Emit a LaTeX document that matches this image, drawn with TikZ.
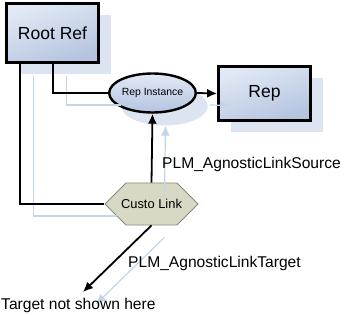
\documentclass[tikz,border=0pt]{standalone}
\usepackage{fontspec}
\setmainfont{Liberation Sans}
\usetikzlibrary{shapes.geometric,shapes.symbols,shadows,arrows.meta}

\definecolor{boxtop}{HTML}{E2E9F5}
\definecolor{boxbot}{HTML}{B4C4DF}
\definecolor{boxshadow}{HTML}{DCE4F2}
\definecolor{wireshadow}{HTML}{C6D4EA}
\definecolor{linkfill}{HTML}{D7D9C5}
\definecolor{linkdraw}{HTML}{8A8A7A}

\begin{document}
\begin{tikzpicture}[x=1pt, y=-1pt,
  >={Latex[length=10pt,width=9pt]},
  objbox/.style={draw, line width=2.8pt, top color=boxtop, bottom color=boxbot,
    shading angle=20, minimum width=92pt,
    drop shadow={shadow xshift=12pt, shadow yshift=-12pt, fill=boxshadow, opacity=1}},
  bigtext/.style={font=\fontsize{17.5}{20}\selectfont},
  wire/.style={line width=1.8pt},
  wireshade/.style={line width=1.2pt, wireshadow, transform canvas={xshift=13pt, yshift=-12pt}},
  lbl/.style={anchor=west, inner sep=0pt, font=\fontsize{15.6}{18}\selectfont}]

\useasboundingbox (0,0) rectangle (345,315);

\node[objbox, bigtext, minimum height=59pt] (root) at (52.5,33) {Root Ref};
\node[objbox, bigtext, minimum height=54pt] (rep) at (264.5,93.5) {Rep};
\node[ellipse, draw, line width=2.4pt, top color=boxtop, bottom color=boxbot,
  minimum width=77pt, minimum height=39pt, inner sep=0pt,
  drop shadow={shadow xshift=12pt, shadow yshift=-13pt, fill=boxshadow, opacity=1},
  font=\fontsize{10.4}{12}\selectfont] (inst) at (152.5,93) {Rep Instance};
\node[signal, signal to=east and west, signal pointer angle=90, draw=linkdraw,
  fill=linkfill, line width=0.8pt, minimum height=42pt,
  inner xsep=-5pt, inner ysep=0pt, font=\fontsize{12.9}{15}\selectfont] (custo) at (151.5,204) {Custo Link};
\coordinate (tgt) at (83,292);

% shadows of the connectors
\draw [wireshade] ([xshift=15pt]root.south west) |- (custo.west);
\draw [wireshade] ([xshift=48pt]root.south west) |- (inst.west);
\draw [wireshade, ->] (inst.east) -- (rep.west);
\draw [wireshade, ->] (custo.north) -- (inst.south);
\draw [wireshade, ->] (custo.south) -- (tgt);

\draw [wire] ([xshift=15pt]root.south west) |- (custo.west);
\draw [wire] ([xshift=48pt]root.south west) |- (inst.west);
\draw [wire, ->] (inst.east) -- (rep.west);
\draw [wire, ->] (custo.north) -- (inst.south);
\draw [wire, ->] (custo.south) -- (tgt);

\node[lbl] (srclbl) at (162,164) {PLM\_AgnosticLinkSource};
\node[lbl] (tgtlbl) at (128,263) {PLM\_AgnosticLinkTarget};
\node[lbl] (hidden) at (1,305) {Target not shown here};

\end{tikzpicture}
\end{document}
